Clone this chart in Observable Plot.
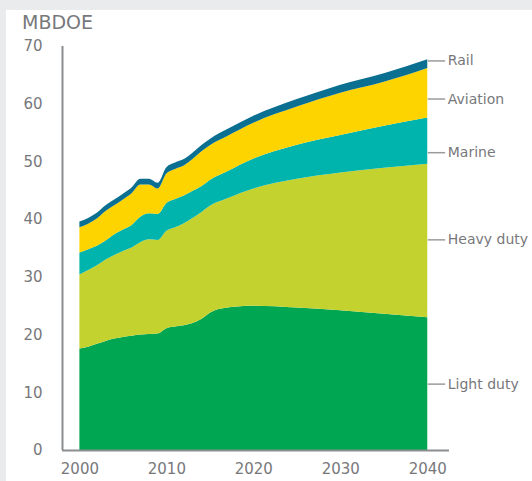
<!DOCTYPE html>
<html><head><meta charset="utf-8">
<script src="https://cdn.jsdelivr.net/npm/d3@7"></script>
<script src="https://cdn.jsdelivr.net/npm/@observablehq/plot@0.6"></script>
<style>
html,body{margin:0;padding:0;width:532px;height:481px;overflow:hidden;background:#e9ebec;}
#panel{position:absolute;left:6px;top:10px;width:526px;height:471px;background:#fff;overflow:hidden;}
#title{position:absolute;left:16px;top:1px;font:19px "DejaVu Sans";line-height:22px;color:#77787b;}
#chart{position:absolute;left:-6px;top:20px;}
</style></head><body>
<div id="panel"><div id="title">MBDOE</div><div id="chart"></div></div>
<script>
const years      = [2000,2001,2002,2003,2004,2005,2006,2007,2008,2009,2010,2011,2012,2013,2014,2015,2017,2020,2025,2030,2035,2040];
const lightDuty  = [17.6,17.9,18.4,18.9,19.3,19.6,19.8,20.0,20.1,20.2,21.1,21.4,21.6,22.0,22.7,23.8,24.7,25.0,24.7,24.2,23.6,23.0];
const heavyDuty  = [12.8,13.3,13.6,14.1,14.5,14.9,15.3,16.0,16.4,16.2,16.9,17.2,17.7,18.2,18.5,18.5,18.9,20.3,22.3,23.9,25.3,26.6];
const marine     = [3.8,3.6,3.4,3.3,3.6,3.7,3.9,4.4,4.5,4.5,4.8,4.9,4.8,4.7,4.5,4.5,4.7,5.2,5.9,6.5,7.3,8.0];
const aviation   = [4.4,4.4,4.7,5.1,5.0,5.2,5.5,5.6,5.0,4.4,5.1,5.2,5.2,5.5,6.0,6.0,6.1,6.2,6.6,7.3,7.6,8.6];
const rail       = [1.0,1.0,1.0,1.0,1.0,1.0,1.0,1.0,1.0,1.0,1.1,1.1,1.1,1.1,1.1,1.1,1.2,1.2,1.3,1.4,1.5,1.5];

const seriesNames = ["Light duty","Heavy duty","Marine","Aviation","Rail"];
const seriesColors = ["#00a651","#c4d230","#00b4ae","#fdd400","#0a6f90"];
const seriesValues = [lightDuty, heavyDuty, marine, aviation, rail];

const xTicks = [2000,2010,2020,2030,2040];
const yTicks = [0,10,20,30,40,50,60,70];

const labelNames = ["Rail","Aviation","Marine","Heavy duty","Light duty"];
const labelY     = [67.5,60.9,51.6,36.5,11.5];

const rows = [];
seriesNames.forEach((s, i) => years.forEach((yr, j) => rows.push({year: yr, series: s, value: seriesValues[i][j]})));
const labels = labelNames.map((n, i) => ({name: n, y: labelY[i]}));
const lastYear = years[years.length - 1];
const xDomain = [1998, 2042.5];
const axisColor = "#8c8d8f";

const chart = Plot.plot({
  width: 532, height: 451,
  marginLeft: 62, marginRight: 83, marginTop: 16, marginBottom: 31,
  x: {domain: xDomain, ticks: xTicks, tickFormat: d => String(d), tickSize: 0, tickPadding: 13, label: null},
  y: {domain: [0, 70], ticks: yTicks, tickSize: 0, tickPadding: 20, label: null},
  color: {domain: seriesNames, range: seriesColors},
  style: {fontFamily: "DejaVu Sans", fontSize: "15px", color: "#77787b", background: "transparent", overflow: "visible"},
  marks: [
    Plot.areaY(rows, {x: "year", y: "value", fill: "series", order: seriesNames, curve: "monotone-x"}),
    Plot.ruleY([0], {stroke: axisColor, strokeWidth: 2}),
    Plot.ruleX([xDomain[0]], {y1: 0, y2: 70, stroke: axisColor, strokeWidth: 2}),
    Plot.link(labels, {x1: () => lastYear, x2: () => lastYear + 2, y1: "y", y2: "y", stroke: "#9a9b9d", strokeWidth: 1.5}),
    Plot.text(labels, {x: () => lastYear, y: "y", text: "name", dx: 20, textAnchor: "start", fontSize: 14, fill: "#77787b"})
  ]
});
document.getElementById("chart").appendChild(chart);
</script></body></html>
